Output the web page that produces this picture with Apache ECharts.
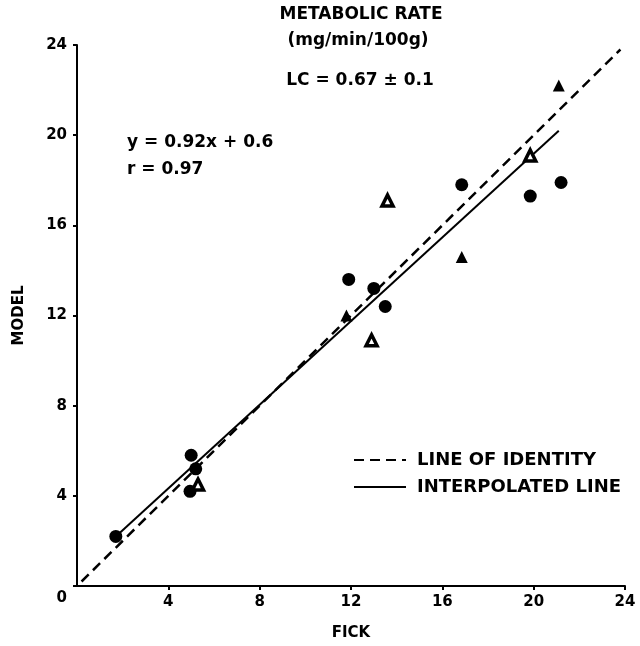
<!DOCTYPE html>
<html>
<head>
<meta charset="utf-8">
<script src="https://cdn.jsdelivr.net/npm/echarts@6/dist/echarts.min.js"></script>
<style>
  html, body { margin: 0; padding: 0; background: #fff; }
  #chart { width: 640px; height: 646px; }
</style>
</head>
<body>
<div id="chart"></div>
<script>
// 数据 (FICK vs MODEL)
var ticks = [0, 4, 8, 12, 16, 20, 24];
var circleX = [1.7, 4.95, 5.0, 5.2, 11.9, 13.0, 13.5, 16.85, 19.85, 21.2];
var circleY = [2.2, 4.2, 5.8, 5.2, 13.6, 13.2, 12.4, 17.8, 17.3, 17.9];
var triX = [11.8, 16.85, 21.1];
var triY = [12.0, 14.6, 22.2];
var openTriX = [5.3, 12.9, 13.6, 19.85];
var openTriY = [4.5, 10.9, 17.1, 19.1];
var identityX = [0.2, 23.8];
var identityY = [0.2, 23.8];
var fitX = [1.7, 21.1];
var fitY = [2.2, 20.2];

function pairs(xs, ys) {
    var out = [];
    for (let i = 0; i < xs.length; i++) {
        out.push([xs[i], ys[i]]);
    }
    return out;
}

var font = 'DejaVu Sans';
var chart = echarts.init(document.getElementById('chart'));

//注释文字
function note(text, x, y, align, size) {
    return {
        type: 'text', x: x, y: y,
        style: { text: text, fontFamily: font, fontWeight: 'bold', fontSize: size, fill: '#000', align: align, verticalAlign: 'middle' }
    };
}

var option = {
    animation: false,
    backgroundColor: '#fff',
    grid: { left: 77, right: 15, top: 45, bottom: 60, containLabel: false },
    legend: {
        data: ['LINE OF IDENTITY', 'INTERPOLATED LINE'],
        orient: 'vertical',
        left: 353,
        top: 451,
        itemWidth: 52,
        itemHeight: 14,
        itemGap: 9,
        padding: 0,
        selectedMode: false,
        itemStyle: { color: 'rgba(0,0,0,0)', borderWidth: 0 },
        textStyle: { fontFamily: font, fontWeight: 'bold', fontSize: 18, color: '#000', padding: [0, 0, 0, 6] }
    },
    xAxis: {
        type: 'value',
        min: ticks[0],
        max: ticks[ticks.length - 1],
        interval: 4,
        name: 'FICK',
        nameLocation: 'middle',
        nameGap: 40,
        nameTextStyle: { fontFamily: font, fontWeight: 'bold', fontSize: 15, color: '#000' },
        axisLine: { lineStyle: { color: '#000', width: 2 } },
        axisTick: { length: 4, lineStyle: { color: '#000', width: 2 } },
        splitLine: { show: false },
        axisLabel: {
            showMinLabel: false,
            margin: 9,
            fontFamily: font, fontWeight: 'bold', fontSize: 15, color: '#000'
        }
    },
    yAxis: {
        type: 'value',
        min: ticks[0],
        max: ticks[ticks.length - 1],
        interval: 4,
        name: 'MODEL',
        nameLocation: 'middle',
        nameGap: 50,
        nameTextStyle: { fontFamily: font, fontWeight: 'bold', fontSize: 15, color: '#000' },
        axisLine: { lineStyle: { color: '#000', width: 2 } },
        axisTick: { length: 4, lineStyle: { color: '#000', width: 2 } },
        splitLine: { show: false },
        axisLabel: {
            margin: 10,
            fontFamily: font, fontWeight: 'bold', fontSize: 15, color: '#000',
            formatter: function (v) { return v === 0 ? '{z|0}' : String(v); },
            rich: { z: { fontFamily: font, fontWeight: 'bold', fontSize: 15, color: '#000', padding: [24, 0, 0, 0] } }
        }
    },
    graphic: [
        note('METABOLIC RATE', 361, 15, 'center', 17),
        note('(mg/min/100g)', 358, 41, 'center', 17),
        note('LC = 0.67 ± 0.1', 360, 81, 'center', 17),
        note('y = 0.92x + 0.6', 127, 143, 'left', 17),
        note('r = 0.97', 127, 170, 'left', 17)
    ],
    series: [
        {
            name: 'LINE OF IDENTITY',
            type: 'line',
            data: pairs(identityX, identityY),
            symbol: 'none',
            itemStyle: { color: '#000' },
            lineStyle: { color: '#000', width: 2.5, type: [10, 6] },
            z: 1
        },
        {
            name: 'INTERPOLATED LINE',
            type: 'line',
            data: pairs(fitX, fitY),
            symbol: 'none',
            itemStyle: { color: '#000' },
            lineStyle: { color: '#000', width: 2 },
            z: 1
        },
        {
            type: 'scatter',
            data: pairs(circleX, circleY),
            symbol: 'circle',
            symbolSize: 13,
            itemStyle: { color: '#000', opacity: 1 },
            z: 3
        },
        {
            type: 'scatter',
            data: pairs(triX, triY),
            symbol: 'triangle',
            symbolSize: 12,
            itemStyle: { color: '#000', opacity: 1 },
            z: 3
        },
        {
            type: 'scatter',
            data: pairs(openTriX, openTriY),
            symbol: 'triangle',
            symbolSize: 11,
            itemStyle: { color: '#fff', borderColor: '#000', borderWidth: 3.5, opacity: 1 },
            z: 4
        }
    ]
};
chart.setOption(option);
</script>
</body>
</html>
